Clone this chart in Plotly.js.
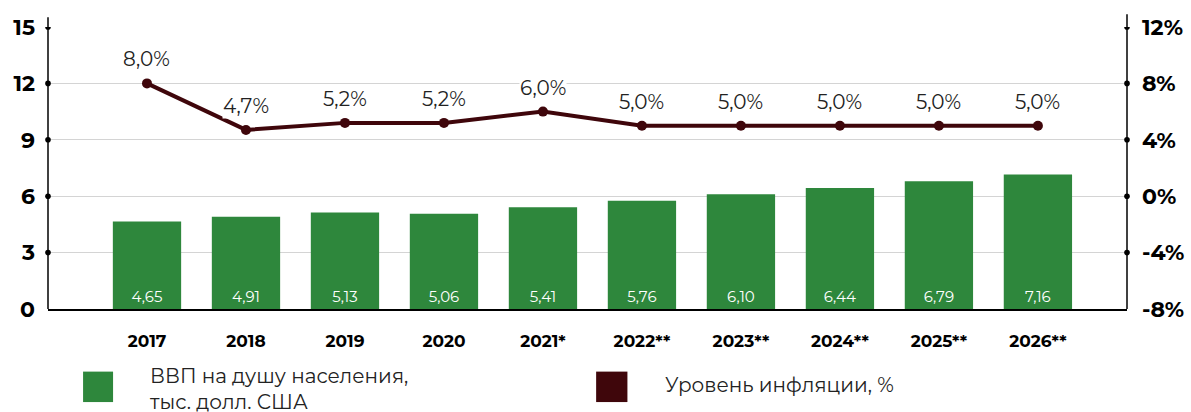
<!DOCTYPE html>
<html><head><meta charset="utf-8">
<script src="https://cdn.plot.ly/plotly-3.0.1.min.js"></script>
<style>html,body{margin:0;padding:0;background:#fff}#c{width:1191px;height:412px}</style>
</head><body><div id="c"></div>
<script>
const years = ["2017","2018","2019","2020","2021*","2022**","2023**","2024**","2025**","2026**"];
const gdp = [4.65,4.91,5.13,5.06,5.41,5.76,6.10,6.44,6.79,7.16];
const gdpLabels = ["4,65","4,91","5,13","5,06","5,41","5,76","6,10","6,44","6,79","7,16"];
const inflation = [8.0,4.7,5.2,5.2,6.0,5.0,5.0,5.0,5.0,5.0];
const inflationLabels = ["8,0%","4,7%","5,2%","5,2%","6,0%","5,0%","5,0%","5,0%","5,0%","5,0%"];
const leftTicks = [0,3,6,9,12,15];
const rightTicks = [-8,-4,0,4,8,12];
const rightTickText = ["-8%","-4%","0%","4%","8%","12%"];
const legendNames = ["ВВП на душу населения,<br>тыс. долл. США","Уровень инфляции, %"];

const GREEN = "#2e873c", MAROON = "#3f060b";
const FONT = "Montserrat, Inter, 'Open Sans', sans-serif";

const traces = [
  {type:"bar", x:years, y:gdp, text:gdpLabels, textposition:"inside", insidetextanchor:"start",
   textfont:{color:"#fff", size:15, family:FONT}, marker:{color:GREEN}, width:0.69,
   hoverinfo:"skip", showlegend:false},
  {type:"scatter", mode:"lines+markers", x:years, y:inflation, yaxis:"y2",
   line:{color:MAROON, width:4}, marker:{color:MAROON, size:10}, showlegend:false, hoverinfo:"skip"}
];

const annotations = years.map((c,i)=>({x:i, y:inflation[i], xref:"x", yref:"y2", text:inflationLabels[i],
  showarrow:false, yshift:24, font:{size:20, color:"#222", family:FONT}, bgcolor:"#fff", borderpad:0}));
annotations.push({xref:"paper", yref:"paper", x:0.094, y:-0.282, xanchor:"left", yanchor:"middle", align:"left",
  text:legendNames[0], showarrow:false, font:{size:20, color:"#222", family:FONT}, borderpad:0});
annotations.push({xref:"paper", yref:"paper", x:0.570, y:-0.27, xanchor:"left", yanchor:"middle", align:"left",
  text:legendNames[1], showarrow:false, font:{size:20, color:"#222", family:FONT}});

const shapes = [
  {type:"line", xref:"paper", yref:"paper", x0:0, x1:0, y0:0, y1:1.035, line:{color:"#000", width:1.5}},
  {type:"line", xref:"paper", yref:"paper", x0:1, x1:1, y0:0, y1:1.045, line:{color:"#000", width:1.5}},
  {type:"rect", xref:"paper", yref:"paper", x0:0.0325, x1:0.0603, y0:-0.222, y1:-0.33, fillcolor:GREEN, line:{width:0}},
  {type:"rect", xref:"paper", yref:"paper", x0:0.508, x1:0.537, y0:-0.222, y1:-0.33, fillcolor:MAROON, line:{width:0}}
];
leftTicks.slice(1).forEach(v=>shapes.push({type:"circle", xref:"paper", yref:"y", x0:-0.0026, x1:0.0026, y0:v-0.15, y1:v+0.15,
  fillcolor:"#000", line:{width:0}}));
rightTicks.slice(1).forEach(v=>shapes.push({type:"circle", xref:"paper", yref:"y2", x0:0.9974, x1:1.0026, y0:v-0.2, y1:v+0.2,
  fillcolor:"#000", line:{width:0}}));

const layout = {
  width:1191, height:412, margin:{l:48, r:64, t:27, b:103},
  paper_bgcolor:"#fff", plot_bgcolor:"#fff", showlegend:false,
  font:{family:FONT, color:"#000"},
  xaxis:{type:"category", range:[-1,9.9], showline:true, linecolor:"#000", linewidth:1.5, ticks:"",
    tickfont:{size:17, family:FONT, weight:"bold", color:"#000"}, ticklabelstandoff:16, showgrid:false, zeroline:false},
  yaxis:{range:[0,15], tickvals:leftTicks, showline:false, ticks:"", gridcolor:"#d4d4d4", gridwidth:1.2,
    tickfont:{size:22, family:FONT, weight:"bold", color:"#000"}, ticklabelstandoff:12, zeroline:false},
  yaxis2:{range:[-8,12], overlaying:"y", side:"right", tickvals:rightTicks, ticktext:rightTickText,
    showgrid:false, showline:false, ticks:"", zeroline:false,
    tickfont:{size:22, family:FONT, weight:"bold", color:"#000"}, ticklabelstandoff:14},
  annotations:annotations, shapes:shapes, bargap:0.31
};
Plotly.newPlot("c", traces, layout, {staticPlot:true});
</script></body></html>
